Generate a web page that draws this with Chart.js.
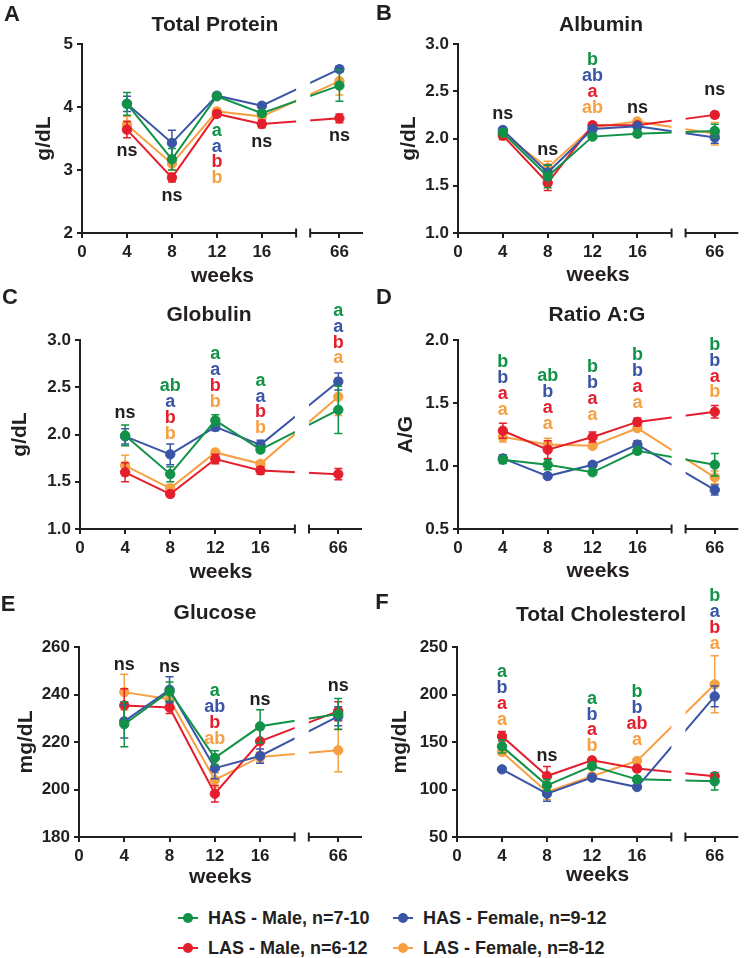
<!DOCTYPE html>
<html>
<head>
<meta charset="utf-8">
<script src="https://cdn.jsdelivr.net/npm/chart.js@4.4.1/dist/chart.umd.min.js"></script>
<style>
  body { margin: 0; background: #fff; width: 744px; height: 958px; position: relative; overflow: hidden;
         font-family: "Liberation Sans", Arial, sans-serif; }
  canvas { position: absolute; }
  .leg { position: absolute; height: 20px; display: flex; align-items: center;
         font: bold 18px "Liberation Sans", Arial, sans-serif; color: #231f20; white-space: nowrap; }
  .leg .mk { position: relative; width: 20px; height: 20px; margin-right: 10px; }
  .leg .ln { position: absolute; left: 0; top: 9px; width: 20px; height: 2px; }
  .leg .dot { position: absolute; left: 5px; top: 5px; width: 10px; height: 10px; border-radius: 50%; }
</style>
</head>
<body>
<script>
const ink = '#231f20';
const weeks = [4, 8, 12, 16, 66];
const axisWeeks = [0, 4, 8, 12, 16, 66];
const seriesNames = ['HAS - Male, n=7-10', 'HAS - Female, n=9-12', 'LAS - Male, n=6-12', 'LAS - Female, n=8-12'];
const seriesColors = ['#119247', '#3b55a6', '#e41e2c', '#f6a042'];

// A - Total Protein (g/dL)
const proteinHasMale = [4.05, 3.17, 4.17, 3.90, 4.34];
const proteinHasMaleErr = [0.18, 0.17, 0.04, 0.04, 0.25];
const proteinHasFemale = [4.05, 3.43, 4.18, 4.02, 4.60];
const proteinHasFemaleErr = [0.12, 0.20, 0.03, 0.04, 0.05];
const proteinLasMale = [3.64, 2.88, 3.89, 3.73, 3.82];
const proteinLasMaleErr = [0.13, 0.07, 0.05, 0.06, 0.07];
const proteinLasFemale = [3.72, 3.10, 3.93, 3.85, 4.41];
const proteinLasFemaleErr = [0.13, 0.10, 0.05, 0.04, 0.22];
const proteinNotes = [[4, 3.32, 'ns'], [8, 2.61, 'ns'], [12, 3.64, ['a', 'a', 'b', 'b']], [16, 3.46, 'ns'], [66, 3.56, 'ns']];

// B - Albumin (g/dL)
const albuminHasMale = [2.06, 1.60, 2.02, 2.05, 2.08];
const albuminHasMaleErr = [0.04, 0.12, 0.02, 0.03, 0.07];
const albuminHasFemale = [2.09, 1.64, 2.10, 2.13, 2.01];
const albuminHasFemaleErr = [0.03, 0.08, 0.03, 0.03, 0.06];
const albuminLasMale = [2.03, 1.53, 2.14, 2.14, 2.25];
const albuminLasMaleErr = [0.04, 0.08, 0.03, 0.03, 0.03];
const albuminLasFemale = [2.05, 1.69, 2.12, 2.18, 2.05];
const albuminLasFemaleErr = [0.04, 0.07, 0.03, 0.03, 0.12];
const albuminNotes = [[4, 2.27, 'ns'], [8, 1.89, 'ns'], [12, 2.84, ['b', 'ab', 'a', 'ab']], [16, 2.33, 'ns'], [66, 2.52, 'ns']];

// C - Globulin (g/dL)
const globulinHasMale = [1.99, 1.58, 2.15, 1.84, 2.26];
const globulinHasMaleErr = [0.11, 0.08, 0.06, 0.03, 0.25];
const globulinHasFemale = [1.98, 1.79, 2.08, 1.89, 2.56];
const globulinHasFemaleErr = [0.08, 0.11, 0.04, 0.05, 0.09];
const globulinLasMale = [1.60, 1.37, 1.74, 1.62, 1.58];
const globulinLasMaleErr = [0.10, 0.03, 0.05, 0.04, 0.06];
const globulinLasFemale = [1.67, 1.43, 1.81, 1.69, 2.40];
const globulinLasFemaleErr = [0.11, 0.04, 0.03, 0.03, 0.20];
const globulinNotes = [[4, 2.24, 'ns'], [8, 2.52, ['ab', 'a', 'b', 'b']], [12, 2.86, ['a', 'a', 'b', 'b']], [16, 2.58, ['a', 'a', 'b', 'b']], [66, 3.32, ['a', 'a', 'b', 'a']]];

// D - Ratio A:G
const ratioHasMale = [1.05, 1.01, 0.95, 1.12, 1.01];
const ratioHasMaleErr = [0.03, 0.04, 0.02, 0.02, 0.09];
const ratioHasFemale = [1.06, 0.92, 1.01, 1.17, 0.81];
const ratioHasFemaleErr = [0.03, 0.02, 0.02, 0.03, 0.04];
const ratioLasMale = [1.28, 1.13, 1.23, 1.35, 1.43];
const ratioLasMaleErr = [0.06, 0.07, 0.04, 0.03, 0.05];
const ratioLasFemale = [1.23, 1.17, 1.16, 1.30, 0.91];
const ratioLasFemaleErr = [0.04, 0.05, 0.02, 0.02, 0.05];
const ratioNotes = [[4, 1.83, ['b', 'b', 'a', 'a']], [8, 1.72, ['ab', 'b', 'a', 'a']], [12, 1.79, ['b', 'b', 'a', 'a']], [16, 1.89, ['b', 'b', 'a', 'a']], [66, 1.97, ['b', 'b', 'a', 'b']]];

// E - Glucose (mg/dL)
const glucoseHasMale = [227.5, 241.3, 213.3, 226.6, 231.8];
const glucoseHasMaleErr = [9.5, 4, 3, 7, 6.5];
const glucoseHasFemale = [228.7, 242.0, 209.0, 214.1, 230.8];
const glucoseHasFemaleErr = [7, 5.5, 4.5, 3, 4];
const glucoseLasMale = [235.4, 234.5, 198.2, 220.3, 233.0];
const glucoseLasMaleErr = [7, 2.5, 3.5, 5, 4];
const glucoseLasFemale = [241.0, 238.0, 204.0, 213.7, 216.5];
const glucoseLasFemaleErr = [7.5, 2, 3, 2, 9];
const glucoseNotes = [[4, 252.7, 'ns'], [8, 251.9, 'ns'], [12, 241.8, ['a', 'ab', 'b', 'ab']], [16, 238.2, 'ns'], [66, 243.9, 'ns']];

// F - Total Cholesterol (mg/dL)
const cholHasMale = [145.4, 104.4, 124.7, 110.7, 108.6];
const cholHasMaleErr = [7, 6, 3, 3, 9];
const cholHasFemale = [121.2, 95.6, 112.5, 102.6, 198.0];
const cholHasFemaleErr = [2, 8, 2, 2, 11];
const cholLasMale = [156.0, 114.2, 130.7, 122.0, 113.9];
const cholLasMaleErr = [5, 10, 3, 3, 3];
const cholLasFemale = [139.5, 97.4, 114.0, 130.0, 210.7];
const cholLasFemaleErr = [3, 8, 3, 3, 30];
const cholNotes = [[4, 224.4, ['a', 'b', 'a', 'a']], [8, 136.7, 'ns'], [12, 196.7, ['a', 'b', 'a', 'b']], [16, 203.3, ['b', 'b', 'ab', 'a']], [66, 304.7, ['b', 'a', 'b', 'a']]];

// broken x axis: 66 weeks is drawn just after the break
const breakPos = 22.9, gapFrom = 19.05, gapTo = 20.3, xMax = 25;
const pos = w => (w <= 16 ? w : breakPos);

const panels = [
  { letter: 'A', title: 'Total Protein', yTitle: 'g/dL', yMin: 2, yMax: 5, yStep: 1, dec: 0, notes: proteinNotes,
    means: [proteinHasMale, proteinHasFemale, proteinLasMale, proteinLasFemale],
    errs: [proteinHasMaleErr, proteinHasFemaleErr, proteinLasMaleErr, proteinLasFemaleErr],
    box: { cx: 0, cy: 0, cw: 372, ch: 292, left: 82, top: 44, bottom: 233, right: 363,
           yTitleX: 44, xTitleY: 276, titleX: 215, titleY: 25, letterX: 12, letterY: 15 } },
  { letter: 'B', title: 'Albumin', yTitle: 'g/dL', yMin: 1, yMax: 3, yStep: 0.5, dec: 1, notes: albuminNotes,
    means: [albuminHasMale, albuminHasFemale, albuminLasMale, albuminLasFemale],
    errs: [albuminHasMaleErr, albuminHasFemaleErr, albuminLasMaleErr, albuminLasFemaleErr],
    box: { cx: 372, cy: 0, cw: 372, ch: 292, left: 458, top: 44, bottom: 233, right: 742,
           yTitleX: 409, xTitleY: 275, titleX: 601, titleY: 25, letterX: 384, letterY: 14 } },
  { letter: 'C', title: 'Globulin', yTitle: 'g/dL', yMin: 1, yMax: 3, yStep: 0.5, dec: 1, notes: globulinNotes,
    means: [globulinHasMale, globulinHasFemale, globulinLasMale, globulinLasFemale],
    errs: [globulinHasMaleErr, globulinHasFemaleErr, globulinLasMaleErr, globulinLasFemaleErr],
    box: { cx: 0, cy: 288, cw: 372, ch: 312, left: 80, top: 340, bottom: 529, right: 362,
           yTitleX: 20, xTitleY: 572, titleX: 209, titleY: 315, letterX: 10, letterY: 298 } },
  { letter: 'D', title: 'Ratio A:G', yTitle: 'A/G', yMin: 0.5, yMax: 2, yStep: 0.5, dec: 1, notes: ratioNotes,
    means: [ratioHasMale, ratioHasFemale, ratioLasMale, ratioLasFemale],
    errs: [ratioHasMaleErr, ratioHasFemaleErr, ratioLasMaleErr, ratioLasFemaleErr],
    box: { cx: 372, cy: 288, cw: 372, ch: 312, left: 458, top: 340, bottom: 529, right: 740,
           yTitleX: 406, xTitleY: 571, titleX: 597, titleY: 315, letterX: 384, letterY: 298 } },
  { letter: 'E', title: 'Glucose', yTitle: 'mg/dL', yMin: 180, yMax: 260, yStep: 20, dec: 0, notes: glucoseNotes,
    means: [glucoseHasMale, glucoseHasFemale, glucoseLasMale, glucoseLasFemale],
    errs: [glucoseHasMaleErr, glucoseHasFemaleErr, glucoseLasMaleErr, glucoseLasFemaleErr],
    box: { cx: 0, cy: 580, cw: 372, ch: 320, left: 79, top: 647, bottom: 837, right: 362,
           yTitleX: 26, xTitleY: 877, titleX: 215, titleY: 613, letterX: 8, letterY: 605 } },
  { letter: 'F', title: 'Total Cholesterol', yTitle: 'mg/dL', yMin: 50, yMax: 250, yStep: 50, dec: 0, notes: cholNotes,
    means: [cholHasMale, cholHasFemale, cholLasMale, cholLasFemale],
    errs: [cholHasMaleErr, cholHasFemaleErr, cholLasMaleErr, cholLasFemaleErr],
    box: { cx: 372, cy: 580, cw: 372, ch: 320, left: 457, top: 647, bottom: 837, right: 740,
           yTitleX: 400, xTitleY: 875, titleX: 601, titleY: 615, letterX: 382, letterY: 603 } }
];

const font = size => ({ family: '"Liberation Sans", Arial, sans-serif', size: size, weight: 'bold' });
const cssFont = size => 'bold ' + size + 'px "Liberation Sans", Arial, sans-serif';
const axisTitleSize = 21;
const halfTitleLine = axisTitleSize * 1.2 / 2;

function panelPlugin(p) {
  const L = p.box;
  return {
    id: 'panel' + p.letter,
    beforeDatasetsDraw(chart) {
      const { ctx, scales: { x } } = chart;
      const g1 = x.getPixelForValue(gapFrom), g2 = x.getPixelForValue(gapTo);
      ctx.save();
      ctx.beginPath();
      ctx.rect(0, 0, g1, chart.height);
      ctx.rect(g2, 0, chart.width - g2, chart.height);
      ctx.clip();
    },
    beforeDatasetDraw(chart, args) {
      // SEM error bars, drawn under each series' line and markers
      const { ctx, scales: { y } } = chart;
      const ds = chart.data.datasets[args.index];
      ctx.save();
      ctx.strokeStyle = ds.borderColor;
      ctx.lineWidth = 1.5;
      args.meta.data.forEach((pt, i) => {
        const v = ds.data[i].y, e = ds.err[i];
        const y1 = y.getPixelForValue(v + e), y2 = y.getPixelForValue(v - e);
        ctx.beginPath();
        ctx.moveTo(pt.x, y1); ctx.lineTo(pt.x, y2);
        ctx.moveTo(pt.x - 4, y1); ctx.lineTo(pt.x + 4, y1);
        ctx.moveTo(pt.x - 4, y2); ctx.lineTo(pt.x + 4, y2);
        ctx.stroke();
      });
      ctx.restore();
    },
    afterDatasetsDraw(chart) {
      const { ctx, chartArea: a, scales: { x, y } } = chart;
      ctx.restore();
      // broken x axis line
      const g1 = x.getPixelForValue(gapFrom), g2 = x.getPixelForValue(gapTo);
      const yb = a.bottom;
      ctx.save();
      ctx.strokeStyle = ink;
      ctx.lineWidth = 2;
      ctx.beginPath();
      ctx.moveTo(a.left - 1, yb); ctx.lineTo(g1, yb);
      ctx.moveTo(g2, yb); ctx.lineTo(a.right, yb);
      ctx.moveTo(g1, yb - 4.5); ctx.lineTo(g1, yb + 4.5);
      ctx.moveTo(g2, yb - 4.5); ctx.lineTo(g2, yb + 4.5);
      ctx.stroke();
      // significance letters
      ctx.font = cssFont(18);
      ctx.textAlign = 'center';
      ctx.textBaseline = 'middle';
      p.notes.forEach(([w, v, labels]) => {
        const px = x.getPixelForValue(pos(w));
        const py = y.getPixelForValue(v) + 1;
        if (labels === 'ns') {
          ctx.fillStyle = ink;
          ctx.fillText('ns', px, py);
        } else {
          labels.forEach((t, k) => {
            ctx.fillStyle = seriesColors[k];
            ctx.fillText(t, px, py + k * 15.9);
          });
        }
      });
      // panel title and letter
      ctx.fillStyle = ink;
      ctx.font = cssFont(21);
      ctx.fillText(p.title, L.titleX - L.cx, L.titleY - L.cy);
      ctx.font = cssFont(22);
      ctx.fillText(p.letter, L.letterX - L.cx, L.letterY - L.cy);
      ctx.restore();
    }
  };
}

panels.forEach(p => {
  const L = p.box;
  const cv = document.createElement('canvas');
  cv.width = L.cw; cv.height = L.ch;
  cv.style.left = L.cx + 'px'; cv.style.top = L.cy + 'px';
  cv.style.width = L.cw + 'px'; cv.style.height = L.ch + 'px';
  document.body.appendChild(cv);

  const yW = L.left - L.cx;
  const xH = L.cy + L.ch - L.bottom;
  const xTitlePad = L.ch - halfTitleLine - (L.xTitleY - L.cy);
  const yTitlePad = L.yTitleX - L.cx - halfTitleLine;

  new Chart(cv, {
    type: 'line',
    data: {
      datasets: seriesNames.map((name, s) => ({
        label: name,
        data: weeks.map((w, i) => ({ x: pos(w), y: p.means[s][i] })),
        err: p.errs[s],
        borderColor: seriesColors[s],
        backgroundColor: seriesColors[s],
        borderWidth: 2,
        pointRadius: 4.7,
        pointHoverRadius: 4.7,
        pointBorderWidth: 1,
        tension: 0,
        clip: false
      }))
    },
    options: {
      responsive: false,
      animation: false,
      events: [],
      layout: { padding: { left: 0, top: L.top - L.cy, right: L.cx + L.cw - L.right, bottom: 0 } },
      plugins: { legend: { display: false }, tooltip: { enabled: false }, title: { display: false } },
      scales: {
        x: {
          type: 'linear', min: 0, max: xMax,
          afterBuildTicks: s => { s.ticks = axisWeeks.map(w => ({ value: pos(w) })); },
          afterFit: s => { s.height = xH; },
          border: { display: false },
          grid: { drawOnChartArea: false, drawTicks: true, tickLength: 5, lineWidth: 2, color: ink },
          ticks: { autoSkip: false, maxRotation: 0, padding: 4, color: ink, font: font(17),
                   callback: (v, i) => String(axisWeeks[i]) },
          title: { display: true, text: 'weeks', color: ink, font: font(axisTitleSize),
                   padding: { top: xTitlePad, bottom: xTitlePad } }
        },
        y: {
          min: p.yMin, max: p.yMax,
          afterFit: s => { s.width = yW; },
          border: { display: true, width: 2, color: ink },
          grid: { drawOnChartArea: false, drawTicks: true, tickLength: 5, lineWidth: 2, color: ink },
          ticks: { stepSize: p.yStep, padding: 4, color: ink, font: font(17),
                   callback: v => Number(v).toFixed(p.dec) },
          title: { display: true, text: p.yTitle, color: ink, font: font(axisTitleSize),
                   padding: { top: yTitlePad, bottom: yTitlePad } }
        }
      }
    },
    plugins: [panelPlugin(p)]
  });
});

// legend
const legendSpots = [[178, 918], [393, 918], [178, 948], [393, 948]];
seriesNames.forEach((name, s) => {
  const d = document.createElement('div');
  d.className = 'leg';
  d.style.left = legendSpots[s][0] + 'px';
  d.style.top = (legendSpots[s][1] - 10) + 'px';
  d.innerHTML = '<span class="mk"><span class="ln" style="background:' + seriesColors[s] + '"></span>' +
                '<span class="dot" style="background:' + seriesColors[s] + '"></span></span>' + name;
  document.body.appendChild(d);
});
</script>
</body>
</html>
